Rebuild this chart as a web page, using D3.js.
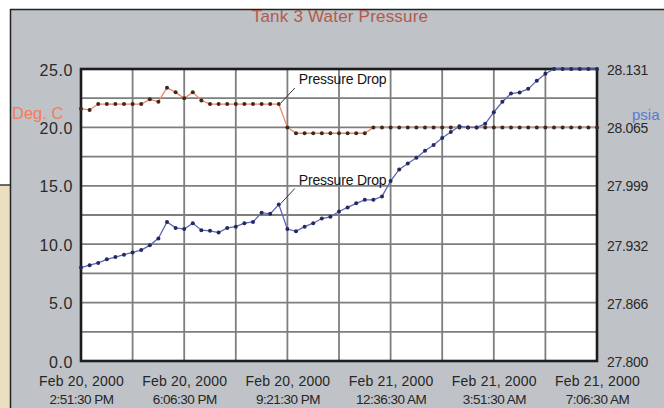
<!DOCTYPE html>
<html>
<head>
<meta charset="utf-8">
<script src="https://cdn.jsdelivr.net/npm/d3@7"></script>
<style>
  html, body { margin: 0; padding: 0; background: #ffffff; }
  svg { display: block; font-family: "Liberation Sans", Arial, sans-serif; }
</style>
</head>
<body>
<svg id="chart" width="664" height="408"></svg>
<script>
// ---- data ----
const chartTitle = "Tank 3 Water Pressure";
const leftAxisTitle = "Deg. C";
const rightAxisTitle = "psia";

const sampleTimes = [
  "2000-02-20T14:51:30","2000-02-20T15:07:45","2000-02-20T15:24:00","2000-02-20T15:40:15",
  "2000-02-20T15:56:30","2000-02-20T16:12:45","2000-02-20T16:29:00","2000-02-20T16:45:15",
  "2000-02-20T17:01:30","2000-02-20T17:17:45","2000-02-20T17:34:00","2000-02-20T17:50:15",
  "2000-02-20T18:06:30","2000-02-20T18:22:45","2000-02-20T18:39:00","2000-02-20T18:55:15",
  "2000-02-20T19:11:30","2000-02-20T19:27:45","2000-02-20T19:44:00","2000-02-20T20:00:15",
  "2000-02-20T20:16:30","2000-02-20T20:32:45","2000-02-20T20:49:00","2000-02-20T21:05:15",
  "2000-02-20T21:21:30","2000-02-20T21:37:45","2000-02-20T21:54:00","2000-02-20T22:10:15",
  "2000-02-20T22:26:30","2000-02-20T22:42:45","2000-02-20T22:59:00","2000-02-20T23:15:15",
  "2000-02-20T23:31:30","2000-02-20T23:47:45","2000-02-21T00:04:00","2000-02-21T00:20:15",
  "2000-02-21T00:36:30","2000-02-21T00:52:45","2000-02-21T01:09:00","2000-02-21T01:25:15",
  "2000-02-21T01:41:30","2000-02-21T01:57:45","2000-02-21T02:14:00","2000-02-21T02:30:15",
  "2000-02-21T02:46:30","2000-02-21T03:02:45","2000-02-21T03:19:00","2000-02-21T03:35:15",
  "2000-02-21T03:51:30","2000-02-21T04:07:45","2000-02-21T04:24:00","2000-02-21T04:40:15",
  "2000-02-21T04:56:30","2000-02-21T05:12:45","2000-02-21T05:29:00","2000-02-21T05:45:15",
  "2000-02-21T06:01:30","2000-02-21T06:17:45","2000-02-21T06:34:00","2000-02-21T06:50:15",
  "2000-02-21T07:06:30"
];

// water temperature, Deg. C (left axis)
const temperature = [
  21.6, 21.5, 22.0, 22.0, 22.0, 22.0, 22.0, 22.0, 22.4, 22.2,
  23.4, 23.0, 22.5, 23.0, 22.3, 22.0, 22.0, 22.0, 22.0, 22.0,
  22.0, 22.0, 22.0, 22.0, 20.0, 19.5, 19.5, 19.5, 19.5, 19.5,
  19.5, 19.5, 19.5, 19.5, 20.0, 20.0, 20.0, 20.0, 20.0, 20.0,
  20.0, 20.0, 20.0, 20.0, 20.0, 20.0, 20.0, 20.0, 20.0, 20.0,
  20.0, 20.0, 20.0, 20.0, 20.0, 20.0, 20.0, 20.0, 20.0, 20.0,
  20.0
];

// water pressure, psia (right axis)
const pressure = [
  27.9059, 27.9086, 27.9112, 27.9152, 27.9178, 27.9205, 27.9231, 27.9258, 27.9311, 27.9390,
  27.9576, 27.9509, 27.9496, 27.9562, 27.9483, 27.9476, 27.9456, 27.9509, 27.9523, 27.9562,
  27.9576, 27.9681, 27.9668, 27.9774, 27.9496, 27.9470, 27.9523, 27.9562, 27.9615, 27.9635,
  27.9695, 27.9741, 27.9787, 27.9827, 27.9827, 27.9866, 28.0039, 28.0171, 28.0238, 28.0304,
  28.0383, 28.0449, 28.0529, 28.0595, 28.0661, 28.0648, 28.0648, 28.0688, 28.0820, 28.0939,
  28.1032, 28.1045, 28.1085, 28.1178, 28.1257, 28.1310, 28.1310, 28.1310, 28.1310, 28.1310,
  28.1310
];

const leftTicks = [0, 5, 10, 15, 20, 25];
const rightTicks = ["27.800", "27.866", "27.932", "27.999", "28.065", "28.131"];
const xTickTimes = ["2000-02-20T14:51:30","2000-02-20T18:06:30","2000-02-20T21:21:30",
                    "2000-02-21T00:36:30","2000-02-21T03:51:30","2000-02-21T07:06:30"];
const xTickLabels = [
  ["Feb 20, 2000", "2:51:30 PM"], ["Feb 20, 2000", "6:06:30 PM"], ["Feb 20, 2000", "9:21:30 PM"],
  ["Feb 21, 2000", "12:36:30 AM"], ["Feb 21, 2000", "3:51:30 AM"], ["Feb 21, 2000", "7:06:30 AM"]
];
const annotations = [
  { label: "Pressure Drop", series: "temperature", index: 23 },
  { label: "Pressure Drop", series: "pressure", index: 23 }
];

// ---- drawing ----
const svg = d3.select("#chart");
const W = 664, H = 408;
const plot = { left: 81, right: 597, top: 69, bottom: 361 };
const FONT = "Liberation Sans, Arial, sans-serif";

// window frame / background
svg.append("rect").attr("x", 0).attr("y", 0).attr("width", W).attr("height", H).attr("fill", "#ffffff");
svg.append("rect").attr("x", 0).attr("y", 185).attr("width", 11).attr("height", H - 185).attr("fill", "#ebdfbf");
svg.append("line").attr("x1", 0).attr("x2", 11).attr("y1", 185).attr("y2", 185).attr("stroke", "#3a3a3a").attr("stroke-width", 1.5);
svg.append("rect").attr("x", 10).attr("y", 9).attr("width", W - 10).attr("height", H - 9).attr("fill", "#bfc2c7");
svg.append("line").attr("x1", 10).attr("x2", W).attr("y1", 9.5).attr("y2", 9.5).attr("stroke", "#222").attr("stroke-width", 1.5);
svg.append("line").attr("x1", 10.5).attr("x2", 10.5).attr("y1", 9).attr("y2", H).attr("stroke", "#222").attr("stroke-width", 1.5);

const parse = d3.isoParse;
const times = sampleTimes.map(parse);
const x = d3.scaleTime().domain(d3.extent(times)).range([plot.left, plot.right]);
const yL = d3.scaleLinear().domain([0, 25]).range([plot.bottom, plot.top]);
const yR = d3.scaleLinear().domain([+rightTicks[0], +rightTicks[rightTicks.length - 1]]).range([plot.bottom, plot.top]);

// plot area
svg.append("rect").attr("x", plot.left).attr("y", plot.top)
  .attr("width", plot.right - plot.left).attr("height", plot.bottom - plot.top).attr("fill", "#ffffff");

// grid
const [t0, t1] = x.domain();
const gridTimes = d3.range(11).map(k => new Date(+t0 + k * (t1 - t0) / 10));
const gridVals = d3.range(0, 25.01, 2.5);
const grid = svg.append("g").attr("stroke", "#7e7e7e").attr("stroke-width", 1.8);
grid.selectAll("line.v").data(gridTimes).join("line").attr("class", "v")
  .attr("x1", d => x(d)).attr("x2", d => x(d)).attr("y1", plot.top).attr("y2", plot.bottom);
grid.selectAll("line.h").data(gridVals).join("line").attr("class", "h")
  .attr("x1", plot.left).attr("x2", plot.right).attr("y1", d => yL(d)).attr("y2", d => yL(d));

// plot border
svg.append("rect").attr("x", plot.left).attr("y", plot.top)
  .attr("width", plot.right - plot.left).attr("height", plot.bottom - plot.top)
  .attr("fill", "none").attr("stroke", "#1c1c1c").attr("stroke-width", 2.6);

// axes (labels only)
const leftAxis = d3.axisLeft(yL).tickValues(leftTicks).tickFormat(d3.format(".1f")).tickSize(0).tickPadding(0);
const gL = svg.append("g").attr("transform", `translate(${plot.left - 8},1)`).call(leftAxis);
gL.select(".domain").remove();
gL.selectAll("text").attr("font-size", 16).attr("fill", "#2a2a2a").attr("font-family", FONT).attr("letter-spacing", 0.6);

const rightAxis = d3.axisRight(yR).tickValues(rightTicks.map(Number)).tickFormat(d3.format(".3f")).tickSize(0).tickPadding(0);
const gR = svg.append("g").attr("transform", `translate(${plot.right + 10},1)`).call(rightAxis);
gR.select(".domain").remove();
gR.selectAll("text").attr("font-size", 14).attr("fill", "#2a2a2a").attr("font-family", FONT).attr("letter-spacing", -0.3);

const bottomAxis = d3.axisBottom(x).tickValues(xTickTimes.map(parse)).tickSize(0).tickPadding(0).tickFormat(() => "");
const gB = svg.append("g").attr("transform", `translate(0,${plot.bottom})`).call(bottomAxis);
gB.select(".domain").remove();
gB.selectAll(".tick text").each(function(d, i) {
  const t = d3.select(this).attr("y", 0).attr("dy", null)
    .attr("fill", "#262626").attr("font-family", FONT);
  t.append("tspan").attr("x", 0).attr("y", 25).attr("font-size", 14).attr("letter-spacing", 0.2).text(xTickLabels[i][0]);
  t.append("tspan").attr("x", 0).attr("y", 43).attr("font-size", 13.5).attr("letter-spacing", -0.5).text(xTickLabels[i][1]);
});

// series
const tempData = times.map((t, i) => ({ t, v: temperature[i] }));
const presData = times.map((t, i) => ({ t, v: pressure[i] }));

svg.append("path").datum(tempData)
  .attr("fill", "none").attr("stroke", "#f2845e").attr("stroke-width", 1.3)
  .attr("d", d3.line().x(d => x(d.t)).y(d => yL(d.v)));
svg.append("g").selectAll("circle").data(tempData).join("circle")
  .attr("cx", d => x(d.t)).attr("cy", d => yL(d.v)).attr("r", 2).attr("fill", "#3b2a22");

svg.append("path").datum(presData)
  .attr("fill", "none").attr("stroke", "#5d68b8").attr("stroke-width", 1.3)
  .attr("d", d3.line().x(d => x(d.t)).y(d => yR(d.v)));
svg.append("g").selectAll("circle").data(presData).join("circle")
  .attr("cx", d => x(d.t)).attr("cy", d => yR(d.v)).attr("r", 2).attr("fill", "#232a5c");

// annotations
annotations.forEach(a => {
  const px = x(times[a.index]) + 2;
  const py = a.series === "temperature" ? yL(temperature[a.index]) - 1 : yR(pressure[a.index]) - 1;
  svg.append("line").attr("x1", px).attr("y1", py).attr("x2", px + 14).attr("y2", py - 15)
    .attr("stroke", "#333").attr("stroke-width", 1);
  svg.append("text").attr("x", px + 18).attr("y", py - 19)
    .attr("font-size", 14).attr("fill", "#151515").attr("letter-spacing", -0.2)
    .text(a.label);
});

// titles
svg.append("text").attr("x", 340).attr("y", 22).attr("text-anchor", "middle")
  .attr("font-size", 17).attr("letter-spacing", 0.2).attr("fill", "#b25a4c").text(chartTitle);
svg.append("text").attr("x", 12).attr("y", 119)
  .attr("font-size", 16.5).attr("fill", "#f27c5a").text(leftAxisTitle);
svg.append("text").attr("x", 632).attr("y", 120)
  .attr("font-size", 15).attr("fill", "#5a78d0").text(rightAxisTitle);
</script>
</body>
</html>
